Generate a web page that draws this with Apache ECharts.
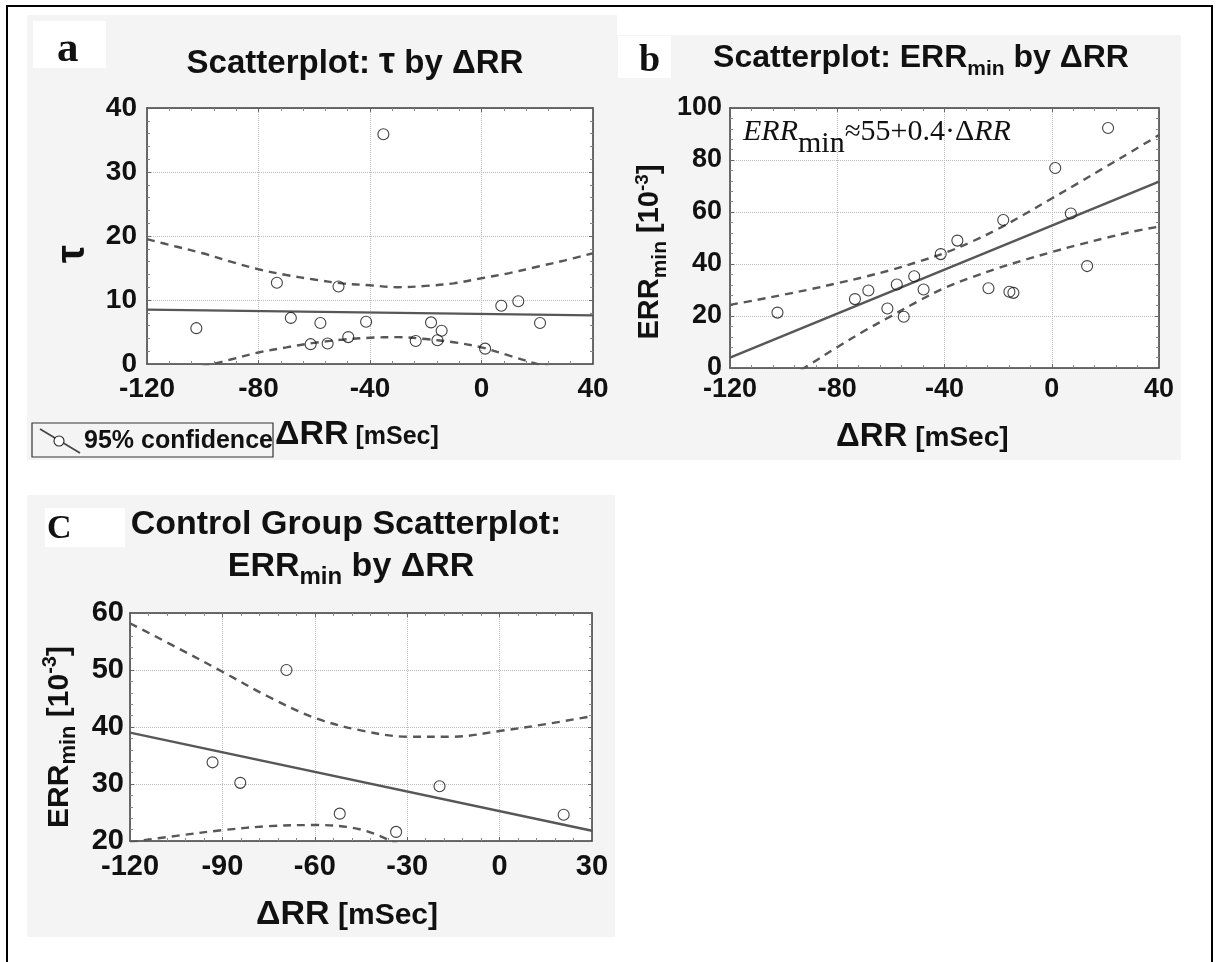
<!DOCTYPE html>
<html><head><meta charset="utf-8">
<script src="https://cdn.jsdelivr.net/npm/echarts@6/dist/echarts.min.js"></script>
<style>html,body{margin:0;padding:0;background:#fff}#c{width:1216px;height:962px}</style>
</head><body><div id="c"></div>
<script>
// ---------- data ----------
// Patient group (panels a & b share the same ΔRR values)
const dRR      = [-102.3,-73.4,-68.4,-61.3,-57.8,-55.2,-51.3,-47.8,-41.4,-35.2,-23.6,-18.1,-15.8,-14.3,1.3,7.1,13.2,21.0];
const tauVals  = [5.6,12.7,7.2,3.1,6.4,3.2,12.1,4.2,6.6,35.9,3.6,6.5,3.7,5.2,2.4,9.1,9.8,6.4];
const errVals  = [21.3,26.5,29.8,22.9,32.1,19.7,35.3,30.2,43.8,49.0,30.7,56.9,29.3,28.9,76.9,59.4,39.2,92.3];
// Control group (panel c)
const ctrlRR   = [-93.2,-84.2,-69.2,-51.9,-33.6,-19.5,20.8];
const ctrlERR  = [33.8,30.2,50.0,24.8,21.6,29.6,24.6];

// Regression lines (end points)
const fitA = [[-120, 8.5],[40, 7.6]];
const fitB = [[-120, 4.0],[40, 71.7]];
const fitC = [[-120, 39.0],[30, 21.8]];

// 95% confidence bands
const bandX_ab   = [-120,-110,-100,-90,-80,-70,-60,-50,-40,-30,-20,-10,0,10,20,30,40];
const bandA_up   = [19.5,18.4,17.3,16.0,14.8,13.9,13.2,12.6,12.3,12.0,12.2,12.6,13.4,14.2,15.2,16.2,17.3];
const bandA_lo   = [-2.6,-1.5,-0.4,0.7,1.8,2.6,3.3,3.8,4.1,4.2,3.9,3.4,2.6,1.3,0.0,-1.1,-2.3];
const bandB_up   = [24.3,26.2,28.2,30.3,32.6,35.0,37.7,40.8,44.2,48.5,53.5,59.2,65.2,71.2,77.3,83.4,89.6];
const bandB_lo   = [-18.0,-11.5,-5.0,1.5,8.0,14.2,19.9,25.6,30.8,34.8,38.4,41.6,44.6,47.4,50.0,52.4,54.4];
const bandX_c    = [-120,-105,-90,-75,-60,-45,-30,-15,0,15,30];
const bandC_up   = [58.2,54.0,49.7,45.3,41.6,39.4,38.3,38.3,39.3,40.5,41.9];
const bandC_lo   = [19.8,20.9,21.9,22.6,22.8,22.0,18.8,15.7,11.2,6.5,1.7];

// Axis ticks
const xTicksAB = [-120,-80,-40,0,40];
const yTicksA  = [0,10,20,30,40];
const yTicksB  = [0,20,40,60,80,100];
const xTicksC  = [-120,-90,-60,-30,0,30];
const yTicksC  = [20,30,40,50,60];

// ---------- helpers ----------
const SANS = '"Liberation Sans", Arial, sans-serif';
const SERIF = '"Liberation Serif", "Times New Roman", serif';
const mctx = document.createElement('canvas').getContext('2d');
function fontStr(p){ return (p.style||'normal')+' '+(p.weight||'bold')+' '+p.size+'px '+(p.family||SANS); }
function measure(p){ mctx.font = fontStr(p); return mctx.measureText(p.t).width; }
function textRun(parts, x0, baseY, anchor){
  const ws = parts.map(measure);
  const total = ws.reduce((a,b)=>a+b,0);
  let x = anchor==='center' ? x0-total/2 : (anchor==='right' ? x0-total : x0);
  return parts.map((p,i)=>{
    const el = {type:'text', x:x, y: baseY + (p.dy||0) - 0.31*p.size, z:100, silent:true,
      style:{text:p.t, font:fontStr(p), fill:p.color||'#111', textAlign:'left', textVerticalAlign:'middle', verticalAlign:'middle'}};
    x += ws[i]; return el;
  });
}
function rotRun(parts, cx, cy, mainSize){
  return {type:'group', x:cx, y:cy, rotation:Math.PI/2, z:100, children: textRun(parts, 0, 0.36*mainSize, 'center')};
}
const pair = (xs, ys) => xs.map((x,i)=>[x, ys[i]]);

function mkAxis(grid, ticks, pos, fs, margin, main){
  return {type:'value', gridIndex:grid, min:ticks[0], max:ticks[ticks.length-1], interval:ticks[1]-ticks[0], position:pos,
    axisLine:{show:true, onZero:false, lineStyle:{color:'#3c3c3c', width:1.5}},
    axisTick:{show:true, inside:true, length:4, lineStyle:{color:'#666'}},
    minorTick:{show:true, splitNumber:5, length:3, lineStyle:{color:'#888'}},
    axisLabel:{show:main, fontSize:fs, fontWeight:'bold', fontFamily:SANS, color:'#111', margin:margin},
    splitLine:{show:main, lineStyle:{color:'#bcbcbc', type:'dotted', width:1}}};
}
function bandSeries(idx, data){
  return {type:'line', xAxisIndex:idx, yAxisIndex:idx, data:data, smooth:0.35, symbol:'none', clip:true,
    lineStyle:{color:'#575757', width:2.4, type:[8,6]}, z:3, silent:true};
}
function fitSeries(idx, data){
  return {type:'line', xAxisIndex:idx, yAxisIndex:idx, data:data, symbol:'none', clip:true,
    lineStyle:{color:'#575757', width:2.4}, z:4, silent:true};
}
function ptSeries(idx, data){
  return {type:'scatter', xAxisIndex:idx, yAxisIndex:idx, data:data, symbol:'circle', symbolSize:11,
    itemStyle:{color:'rgba(255,255,255,0)', borderColor:'#111', borderWidth:1.1}, z:5, silent:true};
}

const GRAY = '#f4f4f4';
const graphics = [
  // panel backgrounds
  {type:'rect', shape:{x:27,y:15,width:590,height:445}, style:{fill:GRAY}, z:-100, silent:true},
  {type:'rect', shape:{x:617,y:35,width:564,height:425}, style:{fill:GRAY}, z:-100, silent:true},
  {type:'rect', shape:{x:27,y:495,width:588,height:442}, style:{fill:GRAY}, z:-100, silent:true},
  // white boxes behind panel letters
  {type:'rect', shape:{x:33,y:21,width:73,height:47}, style:{fill:'#fff'}, z:-99, silent:true},
  {type:'rect', shape:{x:618,y:36,width:53,height:42}, style:{fill:'#fff'}, z:-99, silent:true},
  {type:'rect', shape:{x:45,y:508,width:80,height:39}, style:{fill:'#fff'}, z:-99, silent:true},
  // outer frame
  {type:'polyline', shape:{points:[[7,962],[7,6],[1212,6],[1212,962]]}, style:{stroke:'#000', lineWidth:2, fill:null}, z:100, silent:true},
  // legend box (panel a)
  {type:'rect', shape:{x:32,y:423,width:241,height:34}, style:{fill:GRAY, stroke:'#333', lineWidth:1.2}, z:90, silent:true},
  {type:'line', shape:{x1:40,y1:429,x2:80,y2:453}, style:{stroke:'#444', lineWidth:1.6}, z:91, silent:true},
  {type:'circle', shape:{cx:59,cy:441,r:5}, style:{fill:'#fff', stroke:'#222', lineWidth:1.1}, z:92, silent:true},
];
graphics.push(...textRun([{t:'95% confidence', size:25}], 84, 449, 'left'));
// panel letters
graphics.push(...textRun([{t:'a', size:43, family:SERIF}], 57, 63, 'left'));
graphics.push(...textRun([{t:'b', size:38, family:SERIF}], 639, 73, 'left'));
graphics.push(...textRun([{t:'C', size:34, family:SERIF}], 47, 540, 'left'));
// titles
graphics.push(...textRun([{t:'Scatterplot: ', size:33},{t:'τ', size:36},{t:' by ΔRR', size:33}], 355, 74, 'center'));
graphics.push(...textRun([{t:'Scatterplot: ERR', size:32},{t:'min', size:21, dy:8},{t:' by ΔRR', size:32}], 921, 68, 'center'));
graphics.push(...textRun([{t:'Control Group Scatterplot:', size:34}], 346, 535, 'center'));
graphics.push(...textRun([{t:'ERR', size:34},{t:'min', size:24, dy:8},{t:' by ΔRR', size:34}], 351, 577, 'center'));
// equation (panel b)
graphics.push(...textRun([
  {t:'ERR', size:30, family:SERIF, style:'italic', weight:'normal'},
  {t:'min', size:30, family:SERIF, weight:'normal', dy:12},
  {t:'≈', size:29, family:SERIF, weight:'normal'},
  {t:'55+0.4·Δ', size:30, family:SERIF, weight:'normal'},
  {t:'RR', size:30, family:SERIF, style:'italic', weight:'normal'}], 743, 141, 'left'));
// x axis names
graphics.push(...textRun([{t:'ΔRR', size:34},{t:' [mSec]', size:25}], 275, 445, 'left'));
graphics.push(...textRun([{t:'ΔRR', size:33},{t:' [mSec]', size:28}], 836, 447, 'left'));
graphics.push(...textRun([{t:'ΔRR', size:34},{t:' [mSec]', size:30}], 438, 925, 'right'));
// y axis names (rotated)
graphics.push(rotRun([{t:'τ', size:40}], 71, 254, 40));
graphics.push(rotRun([{t:'ERR', size:29},{t:'min', size:21, dy:7},{t:' [10', size:29},{t:'-3', size:19, dy:-11},{t:']', size:29}], 649, 252, 29));
graphics.push(rotRun([{t:'ERR', size:30},{t:'min', size:22, dy:7},{t:' [10', size:30},{t:'-3', size:20, dy:-12},{t:']', size:30}], 58, 737, 30));

const option = {
  backgroundColor:'#fff',
  animation:false,
  grid:[
    {left:147, top:108, width:446, height:256, show:true, backgroundColor:'#fff', borderWidth:0},
    {left:730, top:108, width:429, height:260, show:true, backgroundColor:'#fff', borderWidth:0},
    {left:130, top:613, width:462, height:228, show:true, backgroundColor:'#fff', borderWidth:0}
  ],
  xAxis:[
    mkAxis(0, xTicksAB, 'bottom', 28, 11, true),
    mkAxis(1, xTicksAB, 'bottom', 27, 8, true),
    mkAxis(2, xTicksC, 'bottom', 29, 11, true),
    mkAxis(0, xTicksAB, 'top', 28, 12, false),
    mkAxis(1, xTicksAB, 'top', 27, 9, false),
    mkAxis(2, xTicksC, 'top', 29, 12, false)
  ],
  yAxis:[
    mkAxis(0, yTicksA, 'left', 28, 10, true),
    mkAxis(1, yTicksB, 'left', 27, 8, true),
    mkAxis(2, yTicksC, 'left', 29, 6, true),
    mkAxis(0, yTicksA, 'right', 28, 10, false),
    mkAxis(1, yTicksB, 'right', 27, 8, false),
    mkAxis(2, yTicksC, 'right', 29, 6, false)
  ],
  series:[
    bandSeries(0, pair(bandX_ab, bandA_up)), bandSeries(0, pair(bandX_ab, bandA_lo)),
    fitSeries(0, fitA), ptSeries(0, pair(dRR, tauVals)),
    bandSeries(1, pair(bandX_ab, bandB_up)), bandSeries(1, pair(bandX_ab, bandB_lo)),
    fitSeries(1, fitB), ptSeries(1, pair(dRR, errVals)),
    bandSeries(2, pair(bandX_c, bandC_up)), bandSeries(2, pair(bandX_c, bandC_lo)),
    fitSeries(2, fitC), ptSeries(2, pair(ctrlRR, ctrlERR))
  ],
  graphic:{elements:graphics}
};
const chart = echarts.init(document.getElementById('c'), null, {renderer:'canvas'});
chart.setOption(option);
</script></body></html>
